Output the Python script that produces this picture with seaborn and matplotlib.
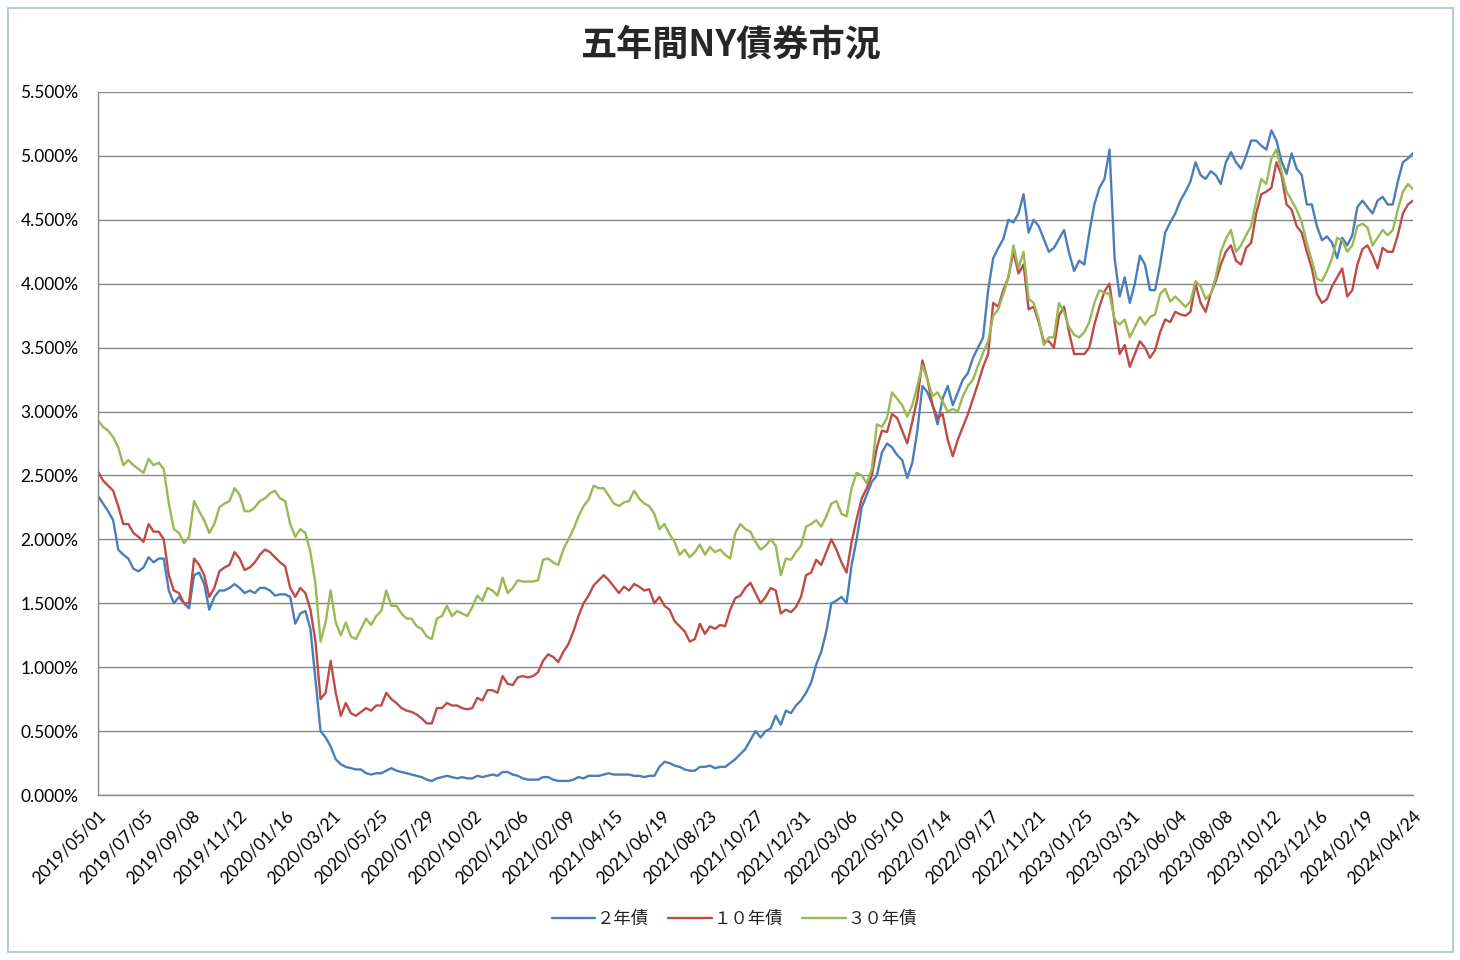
import numpy as np
import pandas as pd
import matplotlib
matplotlib.use("Agg")
import matplotlib.pyplot as plt
import seaborn as sns
from matplotlib.ticker import MultipleLocator, FuncFormatter
from matplotlib.lines import Line2D
from matplotlib.patches import Rectangle

# ---------------- data (weekly readings, % yield) ----------------
START = "2019-05-01"
END = "2024-04-24"
TITLE = "五年間NY債券市況"
series_names = ["２年債", "１０年債", "３０年債"]
series_colors = ["#4A7EBB", "#BE4B48", "#98B954"]

y2 = [
    2.34, 2.28, 2.22, 2.15, 1.92, 1.88, 1.85, 1.77, 1.75, 1.78,
    1.86, 1.82, 1.85, 1.85, 1.60, 1.50, 1.55, 1.50, 1.46, 1.72,
    1.74, 1.65, 1.45, 1.55, 1.60, 1.60, 1.62, 1.65, 1.62, 1.58,
    1.60, 1.58, 1.62, 1.62, 1.60, 1.56, 1.57, 1.57, 1.55, 1.34,
    1.42, 1.44, 1.30, 0.90, 0.50, 0.45, 0.38, 0.28, 0.24, 0.22,
    0.21, 0.20, 0.20, 0.17, 0.16, 0.17, 0.17, 0.19, 0.21, 0.19,
    0.18, 0.17, 0.16, 0.15, 0.14, 0.12, 0.11, 0.13, 0.14, 0.15,
    0.14, 0.13, 0.14, 0.13, 0.13, 0.15, 0.14, 0.15, 0.16, 0.15,
    0.18, 0.18, 0.16, 0.15, 0.13, 0.12, 0.12, 0.12, 0.14, 0.14,
    0.12, 0.11, 0.11, 0.11, 0.12, 0.14, 0.13, 0.15, 0.15, 0.15,
    0.16, 0.17, 0.16, 0.16, 0.16, 0.16, 0.15, 0.15, 0.14, 0.15,
    0.15, 0.22, 0.26, 0.25, 0.23, 0.22, 0.20, 0.19, 0.19, 0.22,
    0.22, 0.23, 0.21, 0.22, 0.22, 0.25, 0.28, 0.32, 0.36, 0.43,
    0.50, 0.45, 0.50, 0.52, 0.62, 0.55, 0.66, 0.64, 0.70, 0.74,
    0.80, 0.88, 1.02, 1.12, 1.28, 1.50, 1.52, 1.55, 1.50, 1.80,
    2.00, 2.25, 2.35, 2.45, 2.50, 2.68, 2.75, 2.72, 2.66, 2.62,
    2.48, 2.60, 2.85, 3.20, 3.15, 3.05, 2.90, 3.10, 3.20, 3.05,
    3.15, 3.25, 3.30, 3.42, 3.50, 3.58, 3.95, 4.20, 4.28, 4.35,
    4.50, 4.48, 4.55, 4.70, 4.40, 4.50, 4.45, 4.35, 4.25, 4.28,
    4.35, 4.42, 4.24, 4.10, 4.18, 4.15, 4.40, 4.62, 4.75, 4.82,
    5.05, 4.20, 3.90, 4.05, 3.85, 4.00, 4.22, 4.15, 3.95, 3.95,
    4.15, 4.40, 4.48, 4.55, 4.65, 4.72, 4.80, 4.95, 4.85, 4.82,
    4.88, 4.85, 4.78, 4.95, 5.03, 4.95, 4.90, 5.00, 5.12, 5.12,
    5.08, 5.05, 5.20, 5.12, 4.96, 4.86, 5.02, 4.90, 4.85, 4.62,
    4.62, 4.45, 4.34, 4.37, 4.32, 4.20, 4.36, 4.30, 4.38, 4.60,
    4.65, 4.60, 4.55, 4.65, 4.68, 4.62, 4.62, 4.80, 4.95, 4.98,
    5.02,
]

y10 = [
    2.53, 2.46, 2.42, 2.38, 2.26, 2.12, 2.12, 2.05, 2.02, 1.98,
    2.12, 2.06, 2.06, 2.00, 1.72, 1.60, 1.58, 1.50, 1.50, 1.85,
    1.80, 1.72, 1.55, 1.62, 1.75, 1.78, 1.80, 1.90, 1.85, 1.76,
    1.78, 1.82, 1.88, 1.92, 1.90, 1.86, 1.82, 1.79, 1.62, 1.55,
    1.62, 1.58, 1.45, 1.20, 0.75, 0.80, 1.05, 0.80, 0.62, 0.72,
    0.64, 0.62, 0.65, 0.68, 0.66, 0.70, 0.70, 0.80, 0.75, 0.72,
    0.68, 0.66, 0.65, 0.63, 0.60, 0.56, 0.56, 0.68, 0.68, 0.72,
    0.70, 0.70, 0.68, 0.67, 0.68, 0.76, 0.74, 0.82, 0.82, 0.80,
    0.93, 0.87, 0.86, 0.92, 0.93, 0.92, 0.93, 0.96, 1.05, 1.10,
    1.08, 1.04, 1.12, 1.18, 1.28, 1.40, 1.50, 1.56, 1.64, 1.68,
    1.72, 1.68, 1.63, 1.58, 1.63, 1.60, 1.65, 1.63, 1.60, 1.61,
    1.50, 1.55, 1.48, 1.45, 1.36, 1.32, 1.28, 1.20, 1.22, 1.34,
    1.26, 1.32, 1.30, 1.33, 1.32, 1.45, 1.54, 1.56, 1.62, 1.66,
    1.58, 1.50, 1.55, 1.62, 1.60, 1.42, 1.45, 1.43, 1.47, 1.55,
    1.72, 1.74, 1.84, 1.80, 1.90, 2.00, 1.92, 1.82, 1.74, 1.98,
    2.16, 2.32, 2.40, 2.50, 2.72, 2.85, 2.84, 2.98, 2.95, 2.85,
    2.75, 2.92, 3.10, 3.40, 3.25, 3.05, 2.95, 2.98, 2.78, 2.65,
    2.78, 2.88, 2.98, 3.10, 3.22, 3.35, 3.45, 3.85, 3.82, 3.95,
    4.05, 4.25, 4.08, 4.15, 3.80, 3.82, 3.70, 3.55, 3.55, 3.50,
    3.75, 3.82, 3.62, 3.45, 3.45, 3.45, 3.50, 3.68, 3.82, 3.94,
    4.00, 3.70, 3.45, 3.52, 3.35, 3.45, 3.55, 3.50, 3.42, 3.48,
    3.62, 3.72, 3.70, 3.78, 3.76, 3.75, 3.78, 4.00, 3.85, 3.78,
    3.92, 4.02, 4.15, 4.25, 4.30, 4.18, 4.15, 4.28, 4.32, 4.55,
    4.70, 4.72, 4.75, 4.95, 4.85, 4.62, 4.58, 4.45, 4.40, 4.25,
    4.12, 3.92, 3.85, 3.88, 3.98, 4.05, 4.12, 3.90, 3.95, 4.15,
    4.27, 4.30, 4.22, 4.12, 4.28, 4.25, 4.25, 4.38, 4.55, 4.62,
    4.65,
]

y30 = [
    2.93, 2.88, 2.85, 2.80, 2.72, 2.58, 2.62, 2.58, 2.55, 2.52,
    2.63, 2.58, 2.60, 2.55, 2.28, 2.08, 2.05, 1.97, 2.02, 2.30,
    2.22, 2.15, 2.05, 2.12, 2.25, 2.28, 2.30, 2.40, 2.35, 2.22,
    2.22, 2.25, 2.30, 2.32, 2.36, 2.38, 2.32, 2.30, 2.12, 2.02,
    2.08, 2.05, 1.90, 1.65, 1.20, 1.35, 1.60, 1.35, 1.25, 1.35,
    1.24, 1.22, 1.30, 1.38, 1.33, 1.40, 1.44, 1.60, 1.48, 1.48,
    1.42, 1.38, 1.38, 1.32, 1.30, 1.24, 1.22, 1.38, 1.40, 1.48,
    1.40, 1.44, 1.42, 1.40, 1.47, 1.56, 1.52, 1.62, 1.60, 1.56,
    1.70, 1.58, 1.62, 1.68, 1.67, 1.67, 1.67, 1.68, 1.84, 1.85,
    1.82, 1.80, 1.92, 2.00, 2.08, 2.18, 2.26, 2.31, 2.42, 2.40,
    2.40, 2.34, 2.28, 2.26, 2.29, 2.30, 2.38, 2.32, 2.28, 2.26,
    2.20, 2.08, 2.12, 2.04, 1.98, 1.88, 1.92, 1.86, 1.90, 1.96,
    1.88, 1.94, 1.90, 1.92, 1.88, 1.85, 2.05, 2.12, 2.08, 2.06,
    1.98, 1.92, 1.95, 2.00, 1.95, 1.72, 1.85, 1.84, 1.90, 1.95,
    2.10, 2.12, 2.15, 2.10, 2.18, 2.28, 2.30, 2.20, 2.18, 2.40,
    2.52, 2.50, 2.44, 2.55, 2.90, 2.88, 2.95, 3.15, 3.10, 3.05,
    2.96, 3.05, 3.20, 3.36, 3.25, 3.12, 3.15, 3.08, 3.00, 3.02,
    3.00, 3.12, 3.20, 3.25, 3.36, 3.46, 3.55, 3.75, 3.80, 3.92,
    4.05, 4.30, 4.12, 4.25, 3.88, 3.85, 3.72, 3.52, 3.58, 3.58,
    3.85, 3.78, 3.66, 3.60, 3.58, 3.62, 3.70, 3.85, 3.95, 3.93,
    3.92, 3.72, 3.68, 3.72, 3.58, 3.66, 3.74, 3.68, 3.74, 3.76,
    3.92, 3.96, 3.86, 3.90, 3.86, 3.82, 3.86, 4.02, 3.98, 3.88,
    3.92, 4.05, 4.25, 4.35, 4.42, 4.25, 4.30, 4.38, 4.45, 4.65,
    4.82, 4.78, 4.98, 5.05, 4.88, 4.72, 4.65, 4.58, 4.48, 4.32,
    4.18, 4.04, 4.02, 4.10, 4.20, 4.36, 4.34, 4.25, 4.30, 4.45,
    4.47, 4.44, 4.30, 4.36, 4.42, 4.38, 4.42, 4.58, 4.72, 4.78,
    4.74,
]

# ---------------- build long table ----------------
dates = pd.date_range(START, periods=len(y2), freq="7D")
frames = []
for name, vals in zip(series_names, [y2, y10, y30]):
    frames.append(pd.DataFrame({"date": dates, "yield": vals, "series": name}))
df = pd.concat(frames, ignore_index=True)

# ---------------- style ----------------
sns.set_style("white")
plt.rcParams["font.family"] = ["Lato", "Noto Sans CJK JP", "DejaVu Sans"]

fig = plt.figure(figsize=(14.6, 9.6), dpi=100)
ax = fig.add_axes([98 / 1460, 1 - 795 / 960, (1413 - 98) / 1460, (795 - 92) / 960])

sns.lineplot(
    data=df, x="date", y="yield", hue="series", hue_order=series_names,
    palette=series_colors, linewidth=1.7, errorbar=None, legend=False,
    sort=True, ax=ax,
)

ax.set_xlim(pd.Timestamp(START), pd.Timestamp(END))
ax.set_ylim(0, 5.5)
ax.yaxis.set_major_locator(MultipleLocator(0.5))
ax.yaxis.set_major_formatter(FuncFormatter(lambda v, p: f"{v:.3f}%"))
ax.grid(axis="y", color="#868686", linewidth=1.0)
ax.grid(axis="x", visible=False)
ax.set_axisbelow(True)

for s in ["top", "right"]:
    ax.spines[s].set_visible(False)
for s in ["left", "bottom"]:
    ax.spines[s].set_color("#868686")
    ax.spines[s].set_linewidth(1.0)

ticks = pd.date_range(START, END, freq="65D")
ax.set_xticks(ticks)
ax.set_xticklabels([d.strftime("%Y/%m/%d") for d in ticks], rotation=45,
                   ha="right", va="top", rotation_mode="anchor")
ax.tick_params(axis="x", length=5, width=1, color="#868686", direction="out",
               pad=4, labelsize=12.5, labelcolor="black")
ax.tick_params(axis="y", length=0, pad=14, labelsize=12.5, labelcolor="black")
ax.set_xlabel("")
ax.set_ylabel("")

fig.text(0.5, 1 - 45 / 960, TITLE, ha="center", va="center", fontsize=26,
         fontweight="bold", family=["Noto Sans CJK JP", "DejaVu Sans"])

handles = [Line2D([0], [0], color=c, lw=1.7) for c in series_colors]
fig.legend(handles, series_names, loc="center", bbox_to_anchor=(0.503, 1 - 919 / 960),
           ncol=3, frameon=False, handlelength=2.5, handletextpad=0.1,
           columnspacing=1.1, prop={"family": "Noto Sans CJK JP", "size": 12.5},
           labelcolor="#222222")

fig.patches.append(Rectangle((8 / 1460, 8 / 960), (1453 - 8) / 1460, (952 - 8) / 960,
                             transform=fig.transFigure, fill=False,
                             edgecolor="#a9bfd6", linewidth=1.2))

fig.savefig("out.png", dpi=100)
